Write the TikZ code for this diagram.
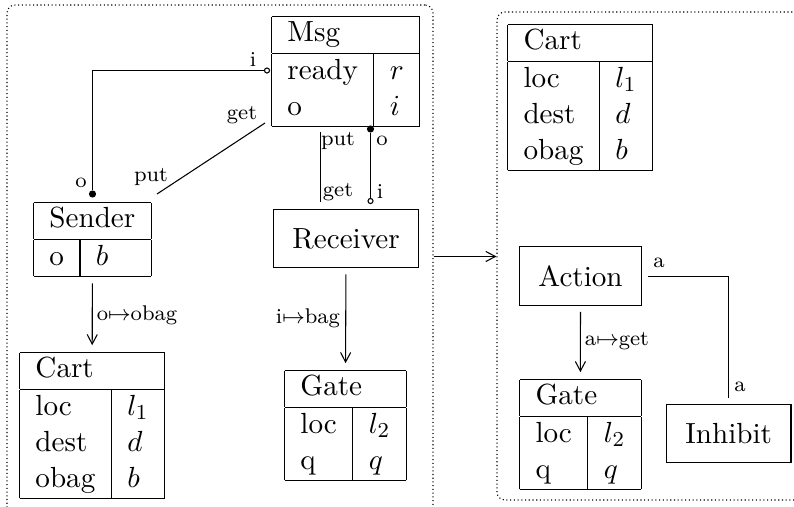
\documentclass[11pt,tikz,border=0pt]{standalone}
\usetikzlibrary{arrows.meta,fit}

\newcommand{\objtab}[2]{%
  \begin{tabular}{|l|l|}\hline
    \multicolumn{2}{|l|}{#1}\\\hline
    #2\\\hline
  \end{tabular}}

\tikzset{
  tab/.style={inner sep=0pt,anchor=north west},
  comp/.style={draw,inner sep=0.25cm,anchor=north west},
  lbl/.style={font=\scriptsize,inner sep=0pt},
  iport/.style={circle,draw,fill=white,inner sep=0pt,minimum size=1.9pt},
  oport/.style={circle,fill,inner sep=0pt,minimum size=2.7pt},
  arr/.style={-{Straight Barb[length=3.6pt,width=3.8pt]}},
  gap/.style={shorten <=2.2pt,shorten >=2.2pt},
  pane/.style={draw,densely dotted,rounded corners=3pt,inner sep=0pt},
}

\begin{document}
\begin{tikzpicture}[x=0.376pt,y=-0.376pt]
  \clip (0,0) rectangle (794,506);

  \node[pane,fit={(7,5) (433,540)}] (world) {}; %linke Seite
  \node[pane,fit={(497,12) (830,500)}] (view) {}; %rechte Seite

  \node[tab] (msg) at (271,15) {\objtab{Msg}{ready & $r$\\ o & $i$}};
  \node[tab] (sender) at (33,201) {\objtab{Sender}{o & $b$}};
  \node[tab] (cart) at (19,351) {\objtab{Cart}{loc & $l_1$\\ dest & $d$\\ obag & $b$}};
  \node[comp] (receiver) at (273,209) {Receiver};
  \node[tab] (gate) at (284,369) {\objtab{Gate}{loc & $l_2$\\ q & $q$}};

  \node[tab] (cart2) at (507,23) {\objtab{Cart}{loc & $l_1$\\ dest & $d$\\ obag & $b$}};
  \node[comp] (action) at (519,246) {Action};
  \node[tab] (gate2) at (519,378) {\objtab{Gate}{loc & $l_2$\\ q & $q$}};
  \node[comp] (inhibit) at (666,404) {Inhibit};

  % Ports
  \node[iport] (msgI) at (267,70.5) {};
  \node[oport] (sndO) at (92.5,194) {};
  \node[oport] (msgO) at (370.5,129) {};
  \node[iport] (rcvI) at (370.5,201) {};
  \draw (msgI) -| (sndO);
  \draw (msgO) -- (rcvI);

  \coordinate (get) at (265,123);
  \coordinate (put) at (157,194);
  \draw (get) -- (put);
  \coordinate (put2) at (320.5,132);
  \coordinate (get2) at (320.5,202);
  \draw (put2) -- (get2);

  \draw[arr,gap] (sender) -- (cart);
  \draw[arr,gap] (receiver) -- (gate);
  \draw[arr,gap] (action) -- (gate2);
  \draw[gap] (action) -| (inhibit);
  \draw[arr] (world.east |- 0,256.5) -- (view.west |- 0,256.5);

  % Beschriftungen
  \node[lbl] (lMsgI) at (253,59) {i};
  \node[lbl] (lSndO) at (81,183) {o};
  \node[lbl] (lGet) at (242,115) {get};
  \node[lbl] (lPut) at (151,177) {put};
  \node[lbl] (lPut2) at (338,141) {put};
  \node[lbl] (lGet2) at (338,192) {get};
  \node[lbl] (lMsgO) at (382,141) {o};
  \node[lbl] (lRcvI) at (380,191) {i};
  \node[lbl] (lObag) at (137,315) {o$\mapsto$obag};
  \node[lbl] (lBag) at (308,318) {i$\mapsto$bag};
  \node[lbl] (lAget) at (617,341) {a$\mapsto$get};
  \node[lbl] (lA1) at (659,263) {a};
  \node[lbl] (lA2) at (740,387) {a};
\end{tikzpicture}
\end{document}
